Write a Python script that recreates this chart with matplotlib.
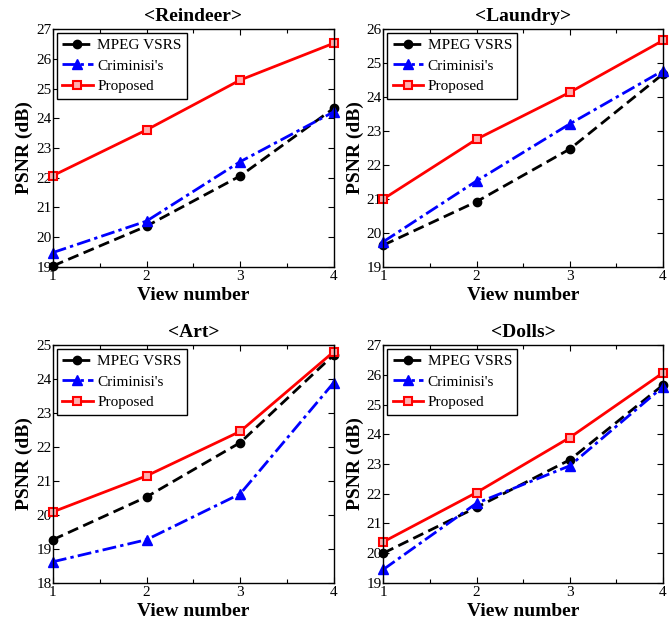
import matplotlib
matplotlib.use('Agg')
import matplotlib.pyplot as plt
from matplotlib.ticker import MultipleLocator

plt.rcParams['font.family'] = ['Liberation Serif', 'DejaVu Serif']

views = [1, 2, 3, 4]
titles = ['<Reindeer>', '<Laundry>', '<Art>', '<Dolls>']
series_names = ['MPEG VSRS', "Criminisi's", 'Proposed']

# PSNR (dB) per scene
reindeer_mpeg = [19.03, 20.37, 22.06, 24.34]
reindeer_crim = [19.48, 20.54, 22.54, 24.22]
reindeer_prop = [22.07, 23.61, 25.29, 26.53]

laundry_mpeg = [19.64, 20.92, 22.47, 24.68]
laundry_crim = [19.74, 21.53, 23.21, 24.78]
laundry_prop = [21.0, 22.76, 24.14, 25.67]

art_mpeg = [19.27, 20.53, 22.13, 24.72]
art_crim = [18.62, 19.27, 20.62, 23.9]
art_prop = [20.09, 21.15, 22.46, 24.81]

dolls_mpeg = [20.0, 21.54, 23.14, 25.66]
dolls_crim = [19.45, 21.68, 22.94, 25.6]
dolls_prop = [20.38, 22.04, 23.89, 26.07]

ylims = [(19, 27), (19, 26), (18, 25), (19, 27)]

scenes = [
    (reindeer_mpeg, reindeer_crim, reindeer_prop),
    (laundry_mpeg, laundry_crim, laundry_prop),
    (art_mpeg, art_crim, art_prop),
    (dolls_mpeg, dolls_crim, dolls_prop),
]

styles = [
    dict(color='black', linestyle=(0, (4, 2)), marker='o', markersize=6,
         markerfacecolor='black'),
    dict(color='blue', linestyle=(0, (5, 1.5, 1.2, 1.5)), marker='^', markersize=7,
         markerfacecolor='blue'),
    dict(color='red', linestyle='-', marker='s', markersize=6,
         markerfacecolor='#ffb0b0', markeredgewidth=1.5),
]

boxes = [
    [0.079, 0.571, 0.420, 0.382],
    [0.573, 0.571, 0.418, 0.382],
    [0.079, 0.063, 0.420, 0.382],
    [0.573, 0.063, 0.418, 0.382],
]

fig = plt.figure(figsize=(6.69, 6.22), dpi=100)

for box, title, data, ylim in zip(boxes, titles, scenes, ylims):
    ax = fig.add_axes(box)
    for vals, name, st in zip(data, series_names, styles):
        ax.plot(views, vals, linewidth=2, label=name, clip_on=False, **st)
    ax.set_xlim(1, 4)
    ax.set_ylim(*ylim)
    ax.xaxis.set_major_locator(MultipleLocator(1))
    ax.xaxis.set_minor_locator(MultipleLocator(0.5))
    ax.yaxis.set_major_locator(MultipleLocator(1))
    ax.tick_params(which='both', direction='in', top=True, right=True,
                   labelsize=11, length=4, width=0.8)
    ax.tick_params(which='minor', length=3)
    ax.tick_params(axis='x', pad=2)
    ax.tick_params(axis='y', pad=1)
    for sp in ax.spines.values():
        sp.set_linewidth(1)
    ax.set_title(title, fontsize=14, fontweight='bold', pad=6)
    ax.set_xlabel('View number', fontsize=14, fontweight='bold', labelpad=3)
    ax.set_ylabel('PSNR (dB)', fontsize=14, fontweight='bold', labelpad=2)
    leg = ax.legend(loc='upper left', fontsize=11, frameon=True, fancybox=False,
                    edgecolor='black', handlelength=2.0, handletextpad=0.3,
                    borderpad=0.35, labelspacing=0.45, borderaxespad=0.25)
    leg.get_frame().set_linewidth(1)
    leg.get_frame().set_alpha(1)

fig.savefig('out.png', dpi=100)
